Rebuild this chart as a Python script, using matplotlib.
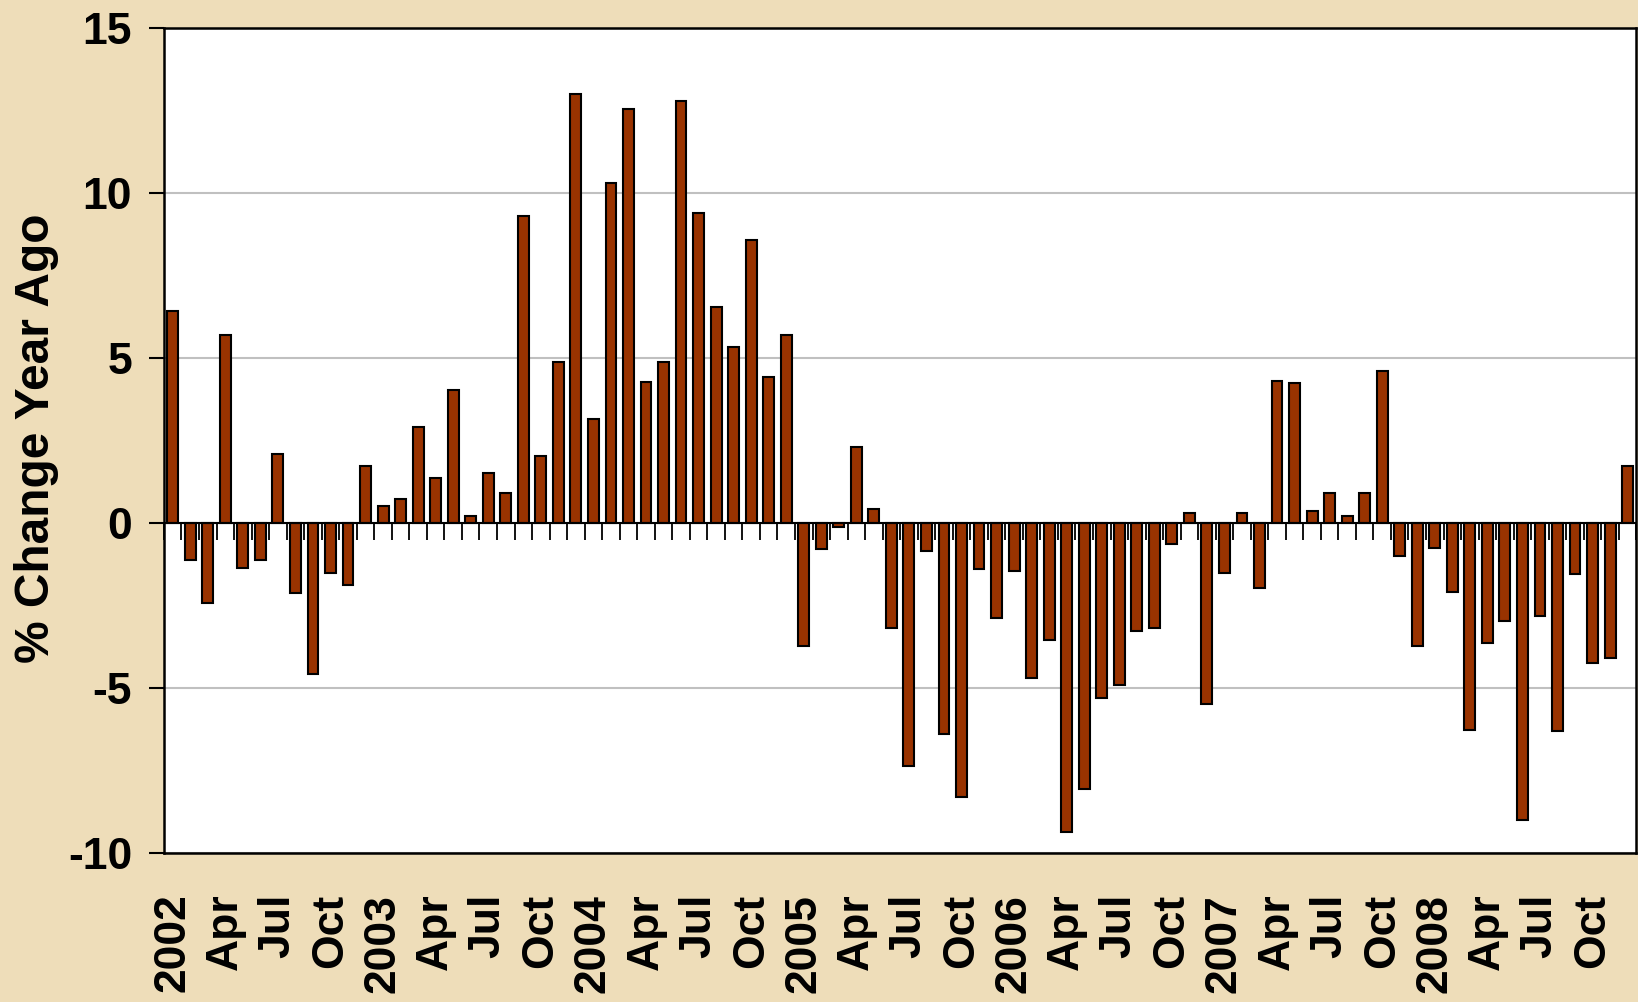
import matplotlib
matplotlib.use('Agg')
import matplotlib.pyplot as plt
import numpy as np

plt.rcParams['font.family'] = ['Liberation Sans', 'DejaVu Sans']
plt.rcParams['font.weight'] = 'bold'
plt.rcParams['axes.unicode_minus'] = False

# monthly % change from a year ago, Jan 2002 .. Dec 2008
years = ['2002', '2003', '2004', '2005', '2006', '2007', '2008']
quarter_months = ['Apr', 'Jul', 'Oct']

pct_2002 = [6.43, -1.12, -2.41, 5.69, -1.36, -1.12, 2.10, -2.11, -4.57, -1.51, -1.88, 1.74]
pct_2003 = [0.53, 0.75, 2.92, 1.36, 4.05, 0.23, 1.51, 0.91, 9.32, 2.04, 4.88, 13.0]
pct_2004 = [3.17, 10.3, 12.56, 4.28, 4.88, 12.78, 9.39, 6.54, 5.34, 8.57, 4.42, 5.69]
pct_2005 = [-3.71, -0.77, -0.10, 2.31, 0.42, -3.18, -7.36, -0.85, -6.39, -8.29, -1.37, -2.87]
pct_2006 = [-1.44, -4.68, -3.55, -9.35, -8.06, -5.28, -4.90, -3.25, -3.17, -0.62, 0.30, -5.46]
pct_2007 = [-1.52, 0.30, -1.97, 4.30, 4.24, 0.38, 0.91, 0.23, 0.91, 4.61, -1.00, -3.73]
pct_2008 = [-0.76, -2.07, -6.27, -3.64, -2.97, -9.00, -2.80, -6.28, -1.53, -4.24, -4.08, 1.74]

values = pct_2002 + pct_2003 + pct_2004 + pct_2005 + pct_2006 + pct_2007 + pct_2008
x = np.arange(len(values))

tick_labels = []
for yr in years:
    tick_labels += [yr] + quarter_months

fig = plt.figure(figsize=(16.38, 10.02), dpi=100)
fig.patch.set_facecolor('#EEDDB9')
ax = fig.add_axes([0.1001, 0.1483, 0.8989, 0.8236])
ax.set_facecolor('white')

ax.bar(x, values, width=0.62, color='#993300', edgecolor='black', linewidth=1.5, zorder=3)

ax.set_xlim(-0.5, len(values) - 0.5)
ax.set_ylim(-10, 15)
ax.set_yticks(np.arange(-10, 16, 5))
ax.yaxis.grid(True, color='#C0C0C0', linewidth=1.5)
ax.set_axisbelow(True)

# zero axis line with tick marks between months
ax.axhline(0, color='black', linewidth=1.5, zorder=4)
bounds = np.arange(len(values) + 1) - 0.5
ax.plot(bounds, np.zeros_like(bounds), ls='none', marker=3, ms=12, mew=1.3,
        color='black', zorder=2, clip_on=False)

ax.set_xticks(x[::3])
ax.set_xticklabels(tick_labels, rotation=90, fontsize=32, fontweight='bold')
ax.tick_params(axis='x', length=0, pad=29)
ax.tick_params(axis='y', direction='out', length=11, width=1.5, pad=12, labelsize=32)
for lbl in ax.get_yticklabels():
    lbl.set_fontweight('bold')

for sp in ax.spines.values():
    sp.set_color('black')
    sp.set_linewidth(1.8)

fig.text(0.022, 1 - 438 / 1002, '% Change Year Ago', rotation=90, ha='center', va='center',
         fontsize=34.5, fontweight='bold')

fig.savefig('out.png', dpi=100, facecolor=fig.get_facecolor())
